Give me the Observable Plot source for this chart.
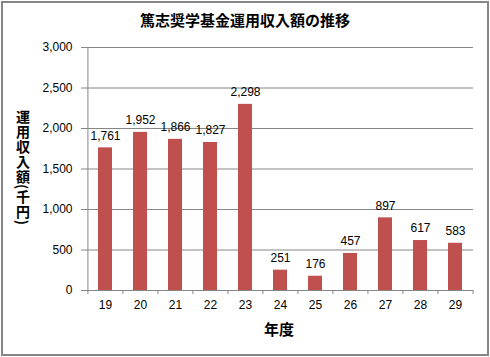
<!DOCTYPE html>
<html>
<head>
<meta charset="utf-8">
<script src="https://cdn.jsdelivr.net/npm/d3@7"></script>
<script src="https://cdn.jsdelivr.net/npm/@observablehq/plot@0.6"></script>
<style>
  html, body { margin: 0; padding: 0; background: #fff; }
  #wrap { position: relative; width: 490px; height: 357px; overflow: hidden; background: #fff; }
  #border { position: absolute; left: 1px; top: 1px; width: 488px; height: 355px; box-sizing: border-box; border: 2px solid #868686; pointer-events: none; }
  #title { position: absolute; left: 0; width: 490px; top: 9px; text-align: center; font-family: "Noto Sans CJK JP", sans-serif; font-weight: bold; font-size: 15px; line-height: 22px; color: #000; }
  #ytitle { position: absolute; left: 14px; top: 110px; writing-mode: vertical-rl; font-family: "Noto Sans CJK JP", sans-serif; font-weight: bold; font-size: 14px; line-height: 18px; letter-spacing: 0.8px; color: #000; }
  #xtitle { position: absolute; left: 0; width: 558px; top: 318px; text-align: center; font-family: "Noto Sans CJK JP", sans-serif; font-weight: bold; font-size: 15px; line-height: 22px; color: #000; }
  #chart { position: absolute; left: 0; top: 0; }
</style>
</head>
<body>
<div id="wrap">
  <div id="chart"></div>
  <div id="title">篤志奨学基金運用収入額の推移</div>
  <div id="ytitle">運用収入額(千円)</div>
  <div id="xtitle">年度</div>
  <div id="border"></div>
</div>
<script>
const years = ["19", "20", "21", "22", "23", "24", "25", "26", "27", "28", "29"];
const values = [1761, 1952, 1866, 1827, 2298, 251, 176, 457, 897, 617, 583];
const yTicks = [0, 500, 1000, 1500, 2000, 2500, 3000];

const data = years.map((y, i) => ({year: y, value: values[i]}));
const fmt = d3.format(",");

const W = 490, H = 357;
const mL = 86, mR = 17, mT = 47, mB = 67;
const bw = (W - mL - mR) / years.length;
const gray = "#868686";

const plot = Plot.plot({
  width: W,
  height: H,
  marginLeft: mL,
  marginRight: mR,
  marginTop: mT,
  marginBottom: mB,
  style: {fontFamily: "'Liberation Sans', Arial, sans-serif", fontSize: "12px", color: "#000", background: "transparent"},
  x: {domain: years, paddingInner: 0.6, paddingOuter: 0.3, label: null},
  y: {domain: [0, 3000], label: null},
  marks: [
    Plot.gridY(yTicks.filter(t => t > 0), {stroke: gray, strokeOpacity: 1, strokeWidth: 1}),
    Plot.barY(data, {x: "year", y: "value", fill: "#C0504D"}),
    Plot.ruleY([0], {stroke: gray, strokeWidth: 1}),
    Plot.ruleX([years[0]], {x: d => d, y1: 0, y2: 3000, dx: -bw / 2, stroke: gray, strokeWidth: 1}),
    Plot.axisY({ticks: yTicks, tickSize: 5, tickPadding: 9, tickFormat: fmt, stroke: gray, fill: "#000", fontSize: 12}),
    Plot.axisX({tickSize: 4, tickFormat: () => "", dx: -bw / 2, stroke: gray}),
    Plot.axisX({ticks: [years[years.length - 1]], tickSize: 4, tickFormat: () => "", dx: bw / 2, stroke: gray}),
    Plot.axisX({tickSize: 0, tickPadding: 10, fill: "#000", fontSize: 12}),
    Plot.text(data, {x: "year", y: "value", text: d => fmt(d.value), dy: -12, lineAnchor: "middle", fill: "#000", fontSize: 12})
  ]
});
document.getElementById("chart").appendChild(plot);
</script>
</body>
</html>
